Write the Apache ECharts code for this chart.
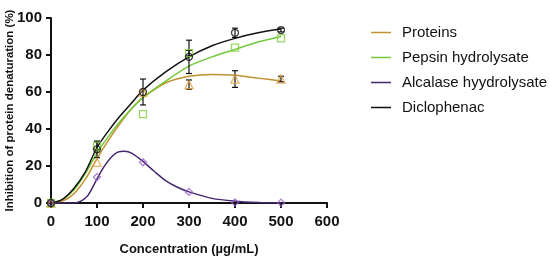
<!DOCTYPE html>
<html>
<head>
<meta charset="utf-8">
<script src="https://cdn.jsdelivr.net/npm/echarts@6/dist/echarts.min.js"></script>
<style>
  html, body { margin: 0; padding: 0; background: #fff; }
  #chart { width: 550px; height: 261px; }
</style>
</head>
<body>
<div id="chart"></div>
<script>
// measured points
const doses = [0, 100, 200, 300, 400, 500];
const proteins = [0, 22, 60, 64, 67, 67];
const pepsin = [0, 31, 48, 81, 84, 89];
const alcalase = [0, 14, 22, 6, 0.3, 0.2];
const diclofenac = [0, 29, 60, 79, 92, 93.5];

// error bars (sd)
const proteinsErr = [0, 0, 0, 2.5, 4.5, 1.5];
const pepsinErr = [0, 2, 0, 1.5, 0, 0];
const alcalaseErr = [0, 0, 0, 0, 0, 0];
const diclofenacErr = [0, 4.5, 7, 9, 2.5, 1];

// fitted curves
const fitX = [0, 25, 50, 75, 100, 125, 150, 175, 200, 250, 300, 350, 400, 450, 500];
const proteinsFit = [0, 1, 5, 13, 24, 34, 43, 51, 57, 65, 68.5, 69.5, 69, 67.5, 66];
const pepsinFit = [0, 2, 7, 16, 27, 36, 44, 51, 57, 66, 74, 79, 83, 87, 90];
const diclofenacFit = [0, 2, 8, 17, 30, 39, 47, 54, 61, 71, 79, 85, 89, 92, 94];
const alcalaseFitX = [0, 50, 65, 80, 100, 115, 130, 145, 160, 175, 200, 225, 250, 275, 300, 350, 400, 450, 500];
const alcalaseFit = [0, 0, 1, 4, 13, 19.5, 24.5, 27.5, 28, 27, 22.5, 17, 12, 8.5, 6, 2.5, 1, 0.3, 0];

const xTicks = [0, 100, 200, 300, 400, 500, 600];

const colors = {
  proteins: '#c1902f',
  pepsin: '#72c93a',
  alcalase: '#45276e',
  diclofenac: '#111111'
};
const markColors = {
  proteins: '#e0a040',
  pepsin: '#7fcf3a',
  alcalase: '#9a5ccc',
  diclofenac: '#111111'
};

const pairs = (xs, ys) => xs.map((x, i) => [x, ys[i]]);

const fitSeries = (name, xs, ys, color) => ({
  name: name,
  type: 'line',
  smooth: 0.3,
  showSymbol: false,
  silent: true,
  data: pairs(xs, ys),
  lineStyle: { color: color, width: 1.5 },
  itemStyle: { color: color },
  z: 2
});

const markSeries = (name, ys, symbol, color, size) => ({
  name: name,
  type: 'scatter',
  symbol: symbol,
  symbolSize: size,
  data: pairs(doses, ys),
  itemStyle: { color: 'rgba(255,255,255,0)', borderColor: color, borderWidth: 1.3 },
  z: 4
});

const errSeries = (name, ys, errs) => ({
  name: name,
  type: 'custom',
  silent: true,
  data: doses.map((x, i) => [x, ys[i] - errs[i], ys[i] + errs[i]]).filter((d, i) => errs[i] > 0),
  renderItem: (params, api) => {
    const lo = api.coord([api.value(0), api.value(1)]);
    const hi = api.coord([api.value(0), api.value(2)]);
    const w = 3;
    const st = { stroke: '#111', lineWidth: 1.2 };
    return {
      type: 'group',
      children: [
        { type: 'line', shape: { x1: lo[0], y1: lo[1], x2: hi[0], y2: hi[1] }, style: st },
        { type: 'line', shape: { x1: lo[0] - w, y1: lo[1], x2: lo[0] + w, y2: lo[1] }, style: st },
        { type: 'line', shape: { x1: hi[0] - w, y1: hi[1], x2: hi[0] + w, y2: hi[1] }, style: st }
      ]
    };
  },
  z: 3
});

const chart = echarts.init(document.getElementById('chart'));
chart.setOption({
  animation: false,
  textStyle: { fontFamily: 'Liberation Sans, Arial, sans-serif' },
  grid: { left: 51, right: 223, top: 18, bottom: 58, containLabel: false, outerBoundsMode: 'none' },
  legend: {
    orient: 'vertical',
    left: 366,
    top: 20,
    itemWidth: 20,
    itemHeight: 1.5,
    itemGap: 10,
    icon: 'rect',
    textStyle: { fontSize: 15, color: '#111', padding: [0, 0, 0, 6] },
    data: ['Proteins', 'Pepsin hydrolysate', 'Alcalase hyydrolysate', 'Diclophenac']
  },
  xAxis: {
    type: 'value',
    min: 0,
    max: 600,
    interval: 100,
    name: 'Concentration (µg/mL)',
    nameLocation: 'middle',
    nameGap: 40,
    nameMoveOverlap: false,
    nameTextStyle: { fontSize: 13, fontWeight: 'bold', color: '#111' },
    axisLine: { show: true, onZero: false, lineStyle: { color: '#111', width: 2 } },
    axisTick: { show: true, length: 5, lineStyle: { color: '#111', width: 2 } },
    axisLabel: {
      fontSize: 15, fontWeight: 'bold', color: '#111', margin: 11,
      formatter: v => xTicks.includes(v) ? String(v) : ''
    },
    splitLine: { show: false }
  },
  yAxis: {
    type: 'value',
    min: 0,
    max: 100,
    interval: 20,
    name: 'Inhibition of protein denaturation (%)',
    nameLocation: 'middle',
    nameGap: 35,
    nameMoveOverlap: false,
    nameTextStyle: { fontSize: 11.5, fontWeight: 'bold', color: '#111' },
    axisLine: { show: true, lineStyle: { color: '#111', width: 2 } },
    axisTick: { show: true, length: 5, lineStyle: { color: '#111', width: 2 } },
    axisLabel: { fontSize: 15, fontWeight: 'bold', color: '#111', margin: 9 },
    splitLine: { show: false }
  },
  series: [
    fitSeries('Proteins', fitX, proteinsFit, colors.proteins),
    fitSeries('Pepsin hydrolysate', fitX, pepsinFit, colors.pepsin),
    fitSeries('Alcalase hyydrolysate', alcalaseFitX, alcalaseFit, colors.alcalase),
    fitSeries('Diclophenac', fitX, diclofenacFit, colors.diclofenac),
    errSeries('err-d', diclofenac, diclofenacErr),
    errSeries('err-p', proteins, proteinsErr),
    errSeries('err-g', pepsin, pepsinErr),
    errSeries('err-a', alcalase, alcalaseErr),
    markSeries('pts-p', proteins, 'triangle', markColors.proteins, 8),
    markSeries('pts-g', pepsin, 'rect', markColors.pepsin, 7),
    markSeries('pts-a', alcalase, 'diamond', markColors.alcalase, 7),
    markSeries('pts-d', diclofenac, 'circle', markColors.diclofenac, 7)
  ]
});
</script>
</body>
</html>
